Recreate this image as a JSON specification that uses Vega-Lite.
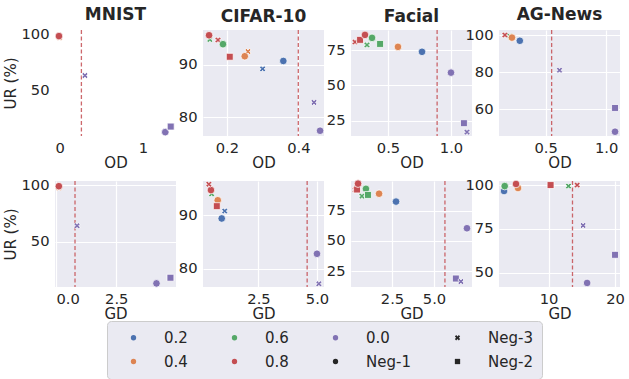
{
  "$schema": "https://vega.github.io/schema/vega-lite/v6.json",
  "background": "white",
  "padding": {"left": 3, "top": 5, "right": 0, "bottom": 0},
  "datasets": {
    "pts": [
      {"p": "MNIST|OD", "v": 0.05, "ur": 97.5, "r": "0.4", "n": "Neg-3"},
      {"p": "MNIST|OD", "v": 0.045, "ur": 99, "r": "0.8", "n": "Neg-1"},
      {"p": "MNIST|OD", "v": 0.34, "ur": 63.5, "r": "0.0", "n": "Neg-3"},
      {"p": "MNIST|OD", "v": 1.253, "ur": 12.5, "r": "0.0", "n": "Neg-1"},
      {"p": "MNIST|OD", "v": 1.315, "ur": 17.5, "r": "0.0", "n": "Neg-2"},
      {"p": "MNIST|GD", "v": 0.12, "ur": 97.5, "r": "0.4", "n": "Neg-3"},
      {"p": "MNIST|GD", "v": 0.12, "ur": 99, "r": "0.8", "n": "Neg-1"},
      {"p": "MNIST|GD", "v": 0.875, "ur": 64, "r": "0.0", "n": "Neg-3"},
      {"p": "MNIST|GD", "v": 4.17, "ur": 13, "r": "0.0", "n": "Neg-1"},
      {"p": "MNIST|GD", "v": 4.75, "ur": 18, "r": "0.0", "n": "Neg-2"},
      {"p": "CIFAR|OD", "v": 0.152, "ur": 94.8, "r": "0.6", "n": "Neg-3"},
      {"p": "CIFAR|OD", "v": 0.15, "ur": 95.6, "r": "0.8", "n": "Neg-1"},
      {"p": "CIFAR|OD", "v": 0.175, "ur": 94.7, "r": "0.8", "n": "Neg-3"},
      {"p": "CIFAR|OD", "v": 0.189, "ur": 93.9, "r": "0.6", "n": "Neg-1"},
      {"p": "CIFAR|OD", "v": 0.208, "ur": 91.5, "r": "0.8", "n": "Neg-2"},
      {"p": "CIFAR|OD", "v": 0.259, "ur": 92.5, "r": "0.4", "n": "Neg-3"},
      {"p": "CIFAR|OD", "v": 0.25, "ur": 91.6, "r": "0.4", "n": "Neg-1"},
      {"p": "CIFAR|OD", "v": 0.3, "ur": 89.2, "r": "0.2", "n": "Neg-3"},
      {"p": "CIFAR|OD", "v": 0.358, "ur": 90.7, "r": "0.2", "n": "Neg-1"},
      {"p": "CIFAR|OD", "v": 0.444, "ur": 82.8, "r": "0.0", "n": "Neg-3"},
      {"p": "CIFAR|OD", "v": 0.461, "ur": 77.4, "r": "0.0", "n": "Neg-1"},
      {"p": "CIFAR|GD", "v": 0.5, "ur": 94, "r": "0.6", "n": "Neg-3"},
      {"p": "CIFAR|GD", "v": 0.47, "ur": 94.7, "r": "0.8", "n": "Neg-1"},
      {"p": "CIFAR|GD", "v": 0.38, "ur": 95.8, "r": "0.8", "n": "Neg-3"},
      {"p": "CIFAR|GD", "v": 0.76, "ur": 92.8, "r": "0.4", "n": "Neg-1"},
      {"p": "CIFAR|GD", "v": 0.72, "ur": 91.7, "r": "0.8", "n": "Neg-2"},
      {"p": "CIFAR|GD", "v": 1.06, "ur": 90.8, "r": "0.2", "n": "Neg-3"},
      {"p": "CIFAR|GD", "v": 0.93, "ur": 89.4, "r": "0.2", "n": "Neg-1"},
      {"p": "CIFAR|GD", "v": 5.0, "ur": 82.8, "r": "0.0", "n": "Neg-1"},
      {"p": "CIFAR|GD", "v": 5.08, "ur": 77.2, "r": "0.0", "n": "Neg-3"},
      {"p": "Facial|OD", "v": 0.238, "ur": 80.8, "r": "0.8", "n": "Neg-3"},
      {"p": "Facial|OD", "v": 0.278, "ur": 82.3, "r": "0.8", "n": "Neg-2"},
      {"p": "Facial|OD", "v": 0.317, "ur": 85.8, "r": "0.8", "n": "Neg-1"},
      {"p": "Facial|OD", "v": 0.333, "ur": 78.7, "r": "0.6", "n": "Neg-3"},
      {"p": "Facial|OD", "v": 0.373, "ur": 83.7, "r": "0.6", "n": "Neg-1"},
      {"p": "Facial|OD", "v": 0.437, "ur": 79.4, "r": "0.6", "n": "Neg-2"},
      {"p": "Facial|OD", "v": 0.579, "ur": 77.3, "r": "0.4", "n": "Neg-1"},
      {"p": "Facial|OD", "v": 0.77, "ur": 73.8, "r": "0.2", "n": "Neg-1"},
      {"p": "Facial|OD", "v": 1.0, "ur": 59, "r": "0.0", "n": "Neg-1"},
      {"p": "Facial|OD", "v": 1.103, "ur": 23.1, "r": "0.0", "n": "Neg-2"},
      {"p": "Facial|OD", "v": 1.127, "ur": 16.8, "r": "0.0", "n": "Neg-3"},
      {"p": "Facial|GD", "v": 0.3, "ur": 92.3, "r": "0.8", "n": "Neg-3"},
      {"p": "Facial|GD", "v": 0.42, "ur": 92.5, "r": "0.8", "n": "Neg-2"},
      {"p": "Facial|GD", "v": 0.48, "ur": 97.3, "r": "0.8", "n": "Neg-1"},
      {"p": "Facial|GD", "v": 0.71, "ur": 87, "r": "0.6", "n": "Neg-3"},
      {"p": "Facial|GD", "v": 0.95, "ur": 93, "r": "0.6", "n": "Neg-1"},
      {"p": "Facial|GD", "v": 1.07, "ur": 88, "r": "0.6", "n": "Neg-2"},
      {"p": "Facial|GD", "v": 1.73, "ur": 89, "r": "0.4", "n": "Neg-1"},
      {"p": "Facial|GD", "v": 2.74, "ur": 82.5, "r": "0.2", "n": "Neg-1"},
      {"p": "Facial|GD", "v": 6.96, "ur": 60.5, "r": "0.0", "n": "Neg-1"},
      {"p": "Facial|GD", "v": 6.3, "ur": 19, "r": "0.0", "n": "Neg-2"},
      {"p": "Facial|GD", "v": 6.6, "ur": 16.5, "r": "0.0", "n": "Neg-3"},
      {"p": "AG|OD", "v": 0.205, "ur": 99.4, "r": "0.6", "n": "Neg-3"},
      {"p": "AG|OD", "v": 0.222, "ur": 98.6, "r": "0.4", "n": "Neg-1"},
      {"p": "AG|OD", "v": 0.164, "ur": 100, "r": "0.8", "n": "Neg-3"},
      {"p": "AG|OD", "v": 0.287, "ur": 96.9, "r": "0.2", "n": "Neg-1"},
      {"p": "AG|OD", "v": 0.615, "ur": 81, "r": "0.0", "n": "Neg-3"},
      {"p": "AG|OD", "v": 1.074, "ur": 60.7, "r": "0.0", "n": "Neg-2"},
      {"p": "AG|OD", "v": 1.074, "ur": 47.9, "r": "0.0", "n": "Neg-1"},
      {"p": "AG|GD", "v": 3.3, "ur": 96.6, "r": "0.2", "n": "Neg-1"},
      {"p": "AG|GD", "v": 3.4, "ur": 99.4, "r": "0.6", "n": "Neg-1"},
      {"p": "AG|GD", "v": 5.4, "ur": 98.3, "r": "0.4", "n": "Neg-1"},
      {"p": "AG|GD", "v": 5.1, "ur": 100.6, "r": "0.8", "n": "Neg-1"},
      {"p": "AG|GD", "v": 10.3, "ur": 100, "r": "0.8", "n": "Neg-2"},
      {"p": "AG|GD", "v": 13.0, "ur": 99.4, "r": "0.6", "n": "Neg-3"},
      {"p": "AG|GD", "v": 14.3, "ur": 100, "r": "0.8", "n": "Neg-3"},
      {"p": "AG|GD", "v": 15.2, "ur": 77, "r": "0.0", "n": "Neg-3"},
      {"p": "AG|GD", "v": 20.0, "ur": 60.3, "r": "0.0", "n": "Neg-2"},
      {"p": "AG|GD", "v": 15.8, "ur": 44.3, "r": "0.0", "n": "Neg-1"}
    ],
    "thr": [
      {"p": "MNIST|OD", "v": 0.3},
      {"p": "MNIST|GD", "v": 0.79},
      {"p": "CIFAR|OD", "v": 0.4},
      {"p": "CIFAR|GD", "v": 4.58},
      {"p": "Facial|OD", "v": 0.89},
      {"p": "Facial|GD", "v": 5.65},
      {"p": "AG|OD", "v": 0.55},
      {"p": "AG|GD", "v": 13.6}
    ],
    "leg": [
      {"lg": "0.2"}, {"lg": "0.4"}, {"lg": "0.6"}, {"lg": "0.8"},
      {"lg": "0.0"}, {"lg": "Neg-1"}, {"lg": "Neg-3"}, {"lg": "Neg-2"}
    ]
  },
  "config": {
    "font": "DejaVu Sans",
    "view": {"fill": "#eaeaf2", "stroke": null},
    "axis": {
      "domain": false, "ticks": false, "gridColor": "white", "gridWidth": 1.2,
      "labelFontSize": 14.7, "labelColor": "#262626", "labelFont": "DejaVu Sans",
      "titleFontSize": 15, "titleFontWeight": "normal", "titleColor": "#262626", "titleFont": "DejaVu Sans"
    },
    "axisX": {"labelPadding": 4, "titlePadding": 1},
    "axisY": {"labelPadding": 6, "titlePadding": 2},
    "title": {"fontSize": 17, "fontWeight": "bold", "color": "#262626", "offset": 3, "font": "DejaVu Sans"},
    "legend": {"orient": "none", "legendX": 52, "legendY": 291, "columns": 4, "fillColor": "#eaeaf2", "strokeColor": "#cccccc", "cornerRadius": 4, "padding": 9, "symbolOffset": 10, "labelOffset": 23, "columnPadding": 29, "rowPadding": 8, "labelFontSize": 15, "labelColor": "#262626", "labelFont": "DejaVu Sans", "symbolSize": 28, "symbolStrokeWidth": 0, "symbolOpacity": 1}
  },
  "columns": 4,
  "spacing": {"row": 45, "column": 27},
  "bounds": "flush",
  "concat": [
    {
      "width": 121, "height": 106, "title": "MNIST",
      "layer": [
        {"data": {"name": "thr"}, "transform": [{"filter": "datum.p === 'MNIST|OD'"}],
         "mark": {"type": "rule", "color": "#c44e52", "opacity": 0.85, "strokeDash": [4, 2.5], "strokeWidth": 1.3},
         "encoding": {"x": {"field": "v", "type": "quantitative", "scale": {"domain": [0, 1.375], "nice": false, "zero": false}, "axis": {"values": [0, 1], "format": "d", "title": "OD"}}}},
        {"data": {"name": "pts"}, "transform": [{"filter": "datum.p === 'MNIST|OD'"}],
         "mark": {"type": "point", "filled": true, "opacity": 1, "stroke": "white", "strokeWidth": 0.75},
         "encoding": {
           "x": {"field": "v", "type": "quantitative", "scale": {"domain": [0, 1.375], "nice": false, "zero": false}, "axis": {"values": [0, 1], "format": "d", "title": "OD"}},
           "y": {"field": "ur", "type": "quantitative", "scale": {"domain": [9, 104.5], "nice": false, "zero": false}, "axis": {"values": [50, 100], "format": "d", "title": "UR (%)"}},
           "color": {"field": "r", "type": "nominal", "scale": {"domain": ["0.2", "0.4", "0.6", "0.8", "0.0"], "range": ["#4c72b0", "#dd8452", "#55a868", "#c44e52", "#8172b3"]}, "legend": null},
           "shape": {"field": "n", "type": "nominal", "scale": {"domain": ["0.2", "0.4", "0.6", "0.8", "0.0", "Neg-1", "Neg-3", "Neg-2"], "range": ["circle", "circle", "circle", "circle", "circle", "circle", "M-0.5,-1L0,-0.5L0.5,-1L1,-0.5L0.5,0L1,0.5L0.5,1L0,0.5L-0.5,1L-1,0.5L-0.5,0L-1,-0.5Z", "square"]}, "title": null},
           "size": {"field": "n", "type": "nominal", "scale": {"domain": ["Neg-1", "Neg-2", "Neg-3"], "range": [58, 38, 75]}, "legend": null}
         }},
        {"data": {"name": "leg"}, "transform": [{"filter": "datum.lg === 'none'"}],
         "mark": {"type": "point", "filled": true},
         "encoding": {
           "fill": {"field": "lg", "type": "nominal", "title": null, "scale": {"domain": ["0.2", "0.4", "0.6", "0.8", "0.0", "Neg-1", "Neg-3", "Neg-2"], "range": ["#4c72b0", "#dd8452", "#55a868", "#c44e52", "#8172b3", "#262626", "#262626", "#262626"]}},
           "shape": {"field": "lg", "type": "nominal", "title": null, "scale": {"domain": ["0.2", "0.4", "0.6", "0.8", "0.0", "Neg-1", "Neg-3", "Neg-2"], "range": ["circle", "circle", "circle", "circle", "circle", "circle", "M-0.5,-1L0,-0.5L0.5,-1L1,-0.5L0.5,0L1,0.5L0.5,1L0,0.5L-0.5,1L-1,0.5L-0.5,0L-1,-0.5Z", "square"]}}
         }}
      ]
    },
    {
      "width": 121, "height": 106, "title": "CIFAR-10",
      "layer": [
        {"data": {"name": "thr"}, "transform": [{"filter": "datum.p === 'CIFAR|OD'"}],
         "mark": {"type": "rule", "color": "#c44e52", "opacity": 0.85, "strokeDash": [4, 2.5], "strokeWidth": 1.3},
         "encoding": {"x": {"field": "v", "type": "quantitative", "scale": {"domain": [0.133, 0.472], "nice": false, "zero": false}, "axis": {"values": [0.2, 0.4], "format": ".1f", "title": "OD"}}}},
        {"data": {"name": "pts"}, "transform": [{"filter": "datum.p === 'CIFAR|OD'"}],
         "mark": {"type": "point", "filled": true, "opacity": 1, "stroke": "white", "strokeWidth": 0.75},
         "encoding": {
           "x": {"field": "v", "type": "quantitative", "scale": {"domain": [0.133, 0.472], "nice": false, "zero": false}, "axis": {"values": [0.2, 0.4], "format": ".1f", "title": "OD"}},
           "y": {"field": "ur", "type": "quantitative", "scale": {"domain": [76.4, 96.6], "nice": false, "zero": false}, "axis": {"values": [80, 90], "format": "d", "title": null}},
           "color": {"field": "r", "type": "nominal", "scale": {"domain": ["0.2", "0.4", "0.6", "0.8", "0.0"], "range": ["#4c72b0", "#dd8452", "#55a868", "#c44e52", "#8172b3"]}, "legend": null},
           "shape": {"field": "n", "type": "nominal", "scale": {"domain": ["0.2", "0.4", "0.6", "0.8", "0.0", "Neg-1", "Neg-3", "Neg-2"], "range": ["circle", "circle", "circle", "circle", "circle", "circle", "M-0.5,-1L0,-0.5L0.5,-1L1,-0.5L0.5,0L1,0.5L0.5,1L0,0.5L-0.5,1L-1,0.5L-0.5,0L-1,-0.5Z", "square"]}, "title": null},
           "size": {"field": "n", "type": "nominal", "scale": {"domain": ["Neg-1", "Neg-2", "Neg-3"], "range": [58, 38, 75]}, "legend": null}
         }}
      ]
    },
    {
      "width": 121, "height": 106, "title": "Facial",
      "layer": [
        {"data": {"name": "thr"}, "transform": [{"filter": "datum.p === 'Facial|OD'"}],
         "mark": {"type": "rule", "color": "#c44e52", "opacity": 0.85, "strokeDash": [4, 2.5], "strokeWidth": 1.3},
         "encoding": {"x": {"field": "v", "type": "quantitative", "scale": {"domain": [0.206, 1.167], "nice": false, "zero": false}, "axis": {"values": [0.5, 1.0], "format": ".1f", "title": "OD"}}}},
        {"data": {"name": "pts"}, "transform": [{"filter": "datum.p === 'Facial|OD'"}],
         "mark": {"type": "point", "filled": true, "opacity": 1, "stroke": "white", "strokeWidth": 0.75},
         "encoding": {
           "x": {"field": "v", "type": "quantitative", "scale": {"domain": [0.206, 1.167], "nice": false, "zero": false}, "axis": {"values": [0.5, 1.0], "format": ".1f", "title": "OD"}},
           "y": {"field": "ur", "type": "quantitative", "scale": {"domain": [14, 89.3], "nice": false, "zero": false}, "axis": {"values": [25, 50, 75], "format": "d", "title": null}},
           "color": {"field": "r", "type": "nominal", "scale": {"domain": ["0.2", "0.4", "0.6", "0.8", "0.0"], "range": ["#4c72b0", "#dd8452", "#55a868", "#c44e52", "#8172b3"]}, "legend": null},
           "shape": {"field": "n", "type": "nominal", "scale": {"domain": ["0.2", "0.4", "0.6", "0.8", "0.0", "Neg-1", "Neg-3", "Neg-2"], "range": ["circle", "circle", "circle", "circle", "circle", "circle", "M-0.5,-1L0,-0.5L0.5,-1L1,-0.5L0.5,0L1,0.5L0.5,1L0,0.5L-0.5,1L-1,0.5L-0.5,0L-1,-0.5Z", "square"]}, "title": null},
           "size": {"field": "n", "type": "nominal", "scale": {"domain": ["Neg-1", "Neg-2", "Neg-3"], "range": [58, 38, 75]}, "legend": null}
         }}
      ]
    },
    {
      "width": 121, "height": 106, "title": "AG-News",
      "layer": [
        {"data": {"name": "thr"}, "transform": [{"filter": "datum.p === 'AG|OD'"}],
         "mark": {"type": "rule", "color": "#c44e52", "opacity": 0.85, "strokeDash": [4, 2.5], "strokeWidth": 1.3},
         "encoding": {"x": {"field": "v", "type": "quantitative", "scale": {"domain": [0.115, 1.115], "nice": false, "zero": false}, "axis": {"values": [0.5, 1.0], "format": ".1f", "title": "OD"}}}},
        {"data": {"name": "pts"}, "transform": [{"filter": "datum.p === 'AG|OD'"}],
         "mark": {"type": "point", "filled": true, "opacity": 1, "stroke": "white", "strokeWidth": 0.75},
         "encoding": {
           "x": {"field": "v", "type": "quantitative", "scale": {"domain": [0.115, 1.115], "nice": false, "zero": false}, "axis": {"values": [0.5, 1.0], "format": ".1f", "title": "OD"}},
           "y": {"field": "ur", "type": "quantitative", "scale": {"domain": [45.6, 102.7], "nice": false, "zero": false}, "axis": {"values": [60, 80, 100], "format": "d", "title": null}},
           "color": {"field": "r", "type": "nominal", "scale": {"domain": ["0.2", "0.4", "0.6", "0.8", "0.0"], "range": ["#4c72b0", "#dd8452", "#55a868", "#c44e52", "#8172b3"]}, "legend": null},
           "shape": {"field": "n", "type": "nominal", "scale": {"domain": ["0.2", "0.4", "0.6", "0.8", "0.0", "Neg-1", "Neg-3", "Neg-2"], "range": ["circle", "circle", "circle", "circle", "circle", "circle", "M-0.5,-1L0,-0.5L0.5,-1L1,-0.5L0.5,0L1,0.5L0.5,1L0,0.5L-0.5,1L-1,0.5L-0.5,0L-1,-0.5Z", "square"]}, "title": null},
           "size": {"field": "n", "type": "nominal", "scale": {"domain": ["Neg-1", "Neg-2", "Neg-3"], "range": [58, 38, 75]}, "legend": null}
         }}
      ]
    },
    {
      "width": 121, "height": 106,
      "layer": [
        {"data": {"name": "thr"}, "transform": [{"filter": "datum.p === 'MNIST|GD'"}],
         "mark": {"type": "rule", "color": "#c44e52", "opacity": 0.85, "strokeDash": [4, 2.5], "strokeWidth": 1.3},
         "encoding": {"x": {"field": "v", "type": "quantitative", "scale": {"domain": [-0.04, 4.98], "nice": false, "zero": false}, "axis": {"values": [0, 2.5], "format": ".1f", "title": "GD"}}}},
        {"data": {"name": "pts"}, "transform": [{"filter": "datum.p === 'MNIST|GD'"}],
         "mark": {"type": "point", "filled": true, "opacity": 1, "stroke": "white", "strokeWidth": 0.75},
         "encoding": {
           "x": {"field": "v", "type": "quantitative", "scale": {"domain": [-0.04, 4.98], "nice": false, "zero": false}, "axis": {"values": [0, 2.5], "format": ".1f", "title": "GD"}},
           "y": {"field": "ur", "type": "quantitative", "scale": {"domain": [9.8, 103.6], "nice": false, "zero": false}, "axis": {"values": [50, 100], "format": "d", "title": "UR (%)"}},
           "color": {"field": "r", "type": "nominal", "scale": {"domain": ["0.2", "0.4", "0.6", "0.8", "0.0"], "range": ["#4c72b0", "#dd8452", "#55a868", "#c44e52", "#8172b3"]}, "legend": null},
           "shape": {"field": "n", "type": "nominal", "scale": {"domain": ["0.2", "0.4", "0.6", "0.8", "0.0", "Neg-1", "Neg-3", "Neg-2"], "range": ["circle", "circle", "circle", "circle", "circle", "circle", "M-0.5,-1L0,-0.5L0.5,-1L1,-0.5L0.5,0L1,0.5L0.5,1L0,0.5L-0.5,1L-1,0.5L-0.5,0L-1,-0.5Z", "square"]}, "title": null},
           "size": {"field": "n", "type": "nominal", "scale": {"domain": ["Neg-1", "Neg-2", "Neg-3"], "range": [58, 38, 75]}, "legend": null}
         }}
      ]
    },
    {
      "width": 121, "height": 106,
      "layer": [
        {"data": {"name": "thr"}, "transform": [{"filter": "datum.p === 'CIFAR|GD'"}],
         "mark": {"type": "rule", "color": "#c44e52", "opacity": 0.85, "strokeDash": [4, 2.5], "strokeWidth": 1.3},
         "encoding": {"x": {"field": "v", "type": "quantitative", "scale": {"domain": [0.13, 5.3], "nice": false, "zero": false}, "axis": {"values": [2.5, 5.0], "format": ".1f", "title": "GD"}}}},
        {"data": {"name": "pts"}, "transform": [{"filter": "datum.p === 'CIFAR|GD'"}],
         "mark": {"type": "point", "filled": true, "opacity": 1, "stroke": "white", "strokeWidth": 0.75},
         "encoding": {
           "x": {"field": "v", "type": "quantitative", "scale": {"domain": [0.13, 5.3], "nice": false, "zero": false}, "axis": {"values": [2.5, 5.0], "format": ".1f", "title": "GD"}},
           "y": {"field": "ur", "type": "quantitative", "scale": {"domain": [76.6, 96.4], "nice": false, "zero": false}, "axis": {"values": [80, 90], "format": "d", "title": null}},
           "color": {"field": "r", "type": "nominal", "scale": {"domain": ["0.2", "0.4", "0.6", "0.8", "0.0"], "range": ["#4c72b0", "#dd8452", "#55a868", "#c44e52", "#8172b3"]}, "legend": null},
           "shape": {"field": "n", "type": "nominal", "scale": {"domain": ["0.2", "0.4", "0.6", "0.8", "0.0", "Neg-1", "Neg-3", "Neg-2"], "range": ["circle", "circle", "circle", "circle", "circle", "circle", "M-0.5,-1L0,-0.5L0.5,-1L1,-0.5L0.5,0L1,0.5L0.5,1L0,0.5L-0.5,1L-1,0.5L-0.5,0L-1,-0.5Z", "square"]}, "title": null},
           "size": {"field": "n", "type": "nominal", "scale": {"domain": ["Neg-1", "Neg-2", "Neg-3"], "range": [58, 38, 75]}, "legend": null}
         }}
      ]
    },
    {
      "width": 121, "height": 106,
      "layer": [
        {"data": {"name": "thr"}, "transform": [{"filter": "datum.p === 'Facial|GD'"}],
         "mark": {"type": "rule", "color": "#c44e52", "opacity": 0.85, "strokeDash": [4, 2.5], "strokeWidth": 1.3},
         "encoding": {"x": {"field": "v", "type": "quantitative", "scale": {"domain": [0.06, 7.26], "nice": false, "zero": false}, "axis": {"values": [2.5, 5.0], "format": ".1f", "title": "GD"}}}},
        {"data": {"name": "pts"}, "transform": [{"filter": "datum.p === 'Facial|GD'"}],
         "mark": {"type": "point", "filled": true, "opacity": 1, "stroke": "white", "strokeWidth": 0.75},
         "encoding": {
           "x": {"field": "v", "type": "quantitative", "scale": {"domain": [0.06, 7.26], "nice": false, "zero": false}, "axis": {"values": [2.5, 5.0], "format": ".1f", "title": "GD"}},
           "y": {"field": "ur", "type": "quantitative", "scale": {"domain": [12, 99.5], "nice": false, "zero": false}, "axis": {"values": [25, 50, 75], "format": "d", "title": null}},
           "color": {"field": "r", "type": "nominal", "scale": {"domain": ["0.2", "0.4", "0.6", "0.8", "0.0"], "range": ["#4c72b0", "#dd8452", "#55a868", "#c44e52", "#8172b3"]}, "legend": null},
           "shape": {"field": "n", "type": "nominal", "scale": {"domain": ["0.2", "0.4", "0.6", "0.8", "0.0", "Neg-1", "Neg-3", "Neg-2"], "range": ["circle", "circle", "circle", "circle", "circle", "circle", "M-0.5,-1L0,-0.5L0.5,-1L1,-0.5L0.5,0L1,0.5L0.5,1L0,0.5L-0.5,1L-1,0.5L-0.5,0L-1,-0.5Z", "square"]}, "title": null},
           "size": {"field": "n", "type": "nominal", "scale": {"domain": ["Neg-1", "Neg-2", "Neg-3"], "range": [58, 38, 75]}, "legend": null}
         }}
      ]
    },
    {
      "width": 121, "height": 106,
      "layer": [
        {"data": {"name": "thr"}, "transform": [{"filter": "datum.p === 'AG|GD'"}],
         "mark": {"type": "rule", "color": "#c44e52", "opacity": 0.85, "strokeDash": [4, 2.5], "strokeWidth": 1.3},
         "encoding": {"x": {"field": "v", "type": "quantitative", "scale": {"domain": [2.54, 20.75], "nice": false, "zero": false}, "axis": {"values": [10, 20], "format": "d", "title": "GD"}}}},
        {"data": {"name": "pts"}, "transform": [{"filter": "datum.p === 'AG|GD'"}],
         "mark": {"type": "point", "filled": true, "opacity": 1, "stroke": "white", "strokeWidth": 0.75},
         "encoding": {
           "x": {"field": "v", "type": "quantitative", "scale": {"domain": [2.54, 20.75], "nice": false, "zero": false}, "axis": {"values": [10, 20], "format": "d", "title": "GD"}},
           "y": {"field": "ur", "type": "quantitative", "scale": {"domain": [42, 102.3], "nice": false, "zero": false}, "axis": {"values": [50, 75, 100], "format": "d", "title": null}},
           "color": {"field": "r", "type": "nominal", "scale": {"domain": ["0.2", "0.4", "0.6", "0.8", "0.0"], "range": ["#4c72b0", "#dd8452", "#55a868", "#c44e52", "#8172b3"]}, "legend": null},
           "shape": {"field": "n", "type": "nominal", "scale": {"domain": ["0.2", "0.4", "0.6", "0.8", "0.0", "Neg-1", "Neg-3", "Neg-2"], "range": ["circle", "circle", "circle", "circle", "circle", "circle", "M-0.5,-1L0,-0.5L0.5,-1L1,-0.5L0.5,0L1,0.5L0.5,1L0,0.5L-0.5,1L-1,0.5L-0.5,0L-1,-0.5Z", "square"]}, "title": null},
           "size": {"field": "n", "type": "nominal", "scale": {"domain": ["Neg-1", "Neg-2", "Neg-3"], "range": [58, 38, 75]}, "legend": null}
         }}
      ]
    }
  ]
}
